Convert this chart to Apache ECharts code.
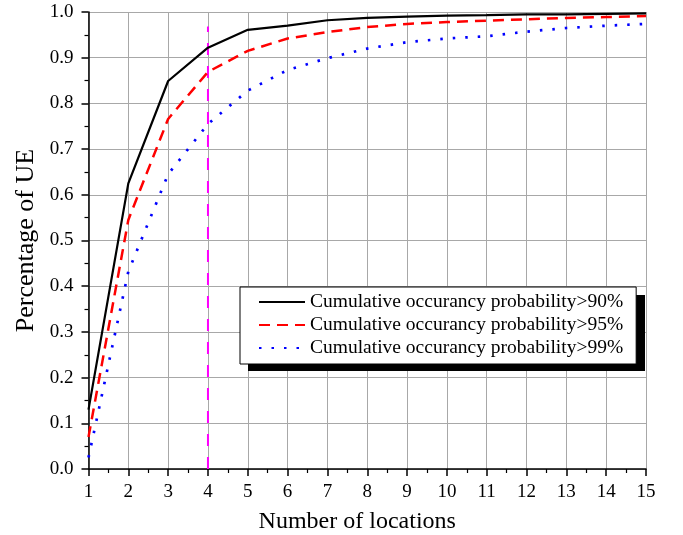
<!DOCTYPE html>
<html><head><meta charset="utf-8">
<script src="https://cdn.jsdelivr.net/npm/echarts@6/dist/echarts.min.js"></script>
<style>html,body{margin:0;padding:0;background:#fff}#c{width:683px;height:535px}</style>
</head><body><div id="c"></div>
<script>
var locations = [1,2,3,4,5,6,7,8,9,10,11,12,13,14,15];
var p90 = [0.13,0.625,0.849,0.922,0.961,0.970,0.982,0.987,0.990,0.992,0.993,0.995,0.995,0.996,0.997];
var p95 = [0.07,0.545,0.766,0.869,0.915,0.942,0.956,0.967,0.974,0.978,0.981,0.984,0.987,0.989,0.991];
var p99 = [0.025,0.432,0.645,0.755,0.828,0.873,0.899,0.920,0.934,0.942,0.947,0.957,0.965,0.970,0.974];
var names = ['Cumulative occurancy probability>90%','Cumulative occurancy probability>95%','Cumulative occurancy probability>99%'];
var markerX = [4,4];
var markerY = [0,0.968];

function pairs(xs, ys){ return xs.map(function(x,i){return [x, ys[i]];}); }
var font = 'Liberation Serif';
var chart = echarts.init(document.getElementById('c'));
chart.setOption({
  animation:false,
  backgroundColor:'#fff',
  grid:{left:88.5,right:37,top:12,bottom:66,outerBoundsMode:'none',containLabel:false},
  graphic:[{type:'rect',left:248,top:295,shape:{width:397,height:76},style:{fill:'#000'},z:1}],
  xAxis:{type:'value',min:1,max:15,interval:1,
    name:'Number of locations',nameLocation:'middle',nameGap:41,
    nameTextStyle:{fontFamily:font,fontSize:24,color:'#000',padding:[0,20,0,0]},
    axisLine:{lineStyle:{color:'#000',width:1.5}},
    axisTick:{inside:false,length:7,lineStyle:{color:'#000',width:1.5}},
    minorTick:{show:true,splitNumber:2,length:4,lineStyle:{color:'#000',width:1.2}},
    axisLabel:{fontFamily:font,fontSize:19,color:'#000',margin:14},
    splitLine:{show:true,lineStyle:{color:'#a8a8a8',width:1}}
  },
  yAxis:{type:'value',min:0,max:1,interval:0.1,
    name:'Percentage of UE',nameLocation:'middle',nameGap:49,
    nameTextStyle:{fontFamily:font,fontSize:26,color:'#000'},
    axisLine:{show:true,lineStyle:{color:'#000',width:1.5}},
    axisTick:{show:true,length:7,lineStyle:{color:'#000',width:1.5}},
    minorTick:{show:true,splitNumber:2,length:4,lineStyle:{color:'#000',width:1.2}},
    axisLabel:{fontFamily:font,fontSize:19,color:'#000',margin:15,formatter:function(v){return v.toFixed(1);}},
    splitLine:{show:true,lineStyle:{color:'#a8a8a8',width:1}}
  },
  legend:{data:names,orient:'vertical',left:240,top:287,z:10,
    itemWidth:46,itemHeight:10,itemGap:3,
    padding:[5,13,6,18],
    itemStyle:{opacity:0},
    backgroundColor:'#fff',borderColor:'#000',borderWidth:1,
    textStyle:{fontFamily:font,fontSize:19.5,color:'#000'}
  },
  series:[
    {name:names[0],type:'line',data:pairs(locations,p90),showSymbol:false,symbol:'none',
      lineStyle:{color:'#000',width:2.2},itemStyle:{color:'#000'},z:5},
    {name:names[1],type:'line',data:pairs(locations,p95),showSymbol:false,symbol:'none',
      lineStyle:{color:'#ff0000',width:2.5,type:[11,7]},itemStyle:{color:'#ff0000'},z:4},
    {name:names[2],type:'line',data:pairs(locations,p99),showSymbol:false,symbol:'none',
      lineStyle:{color:'#0000ff',width:2.7,type:[2.5,10]},itemStyle:{color:'#0000ff'},z:3},
    {name:'marker',type:'line',data:pairs(markerX,markerY),showSymbol:false,symbol:'none',
      lineStyle:{color:'#ff00ff',width:2,type:[12,11]},z:2}
  ]
});
</script></body></html>
